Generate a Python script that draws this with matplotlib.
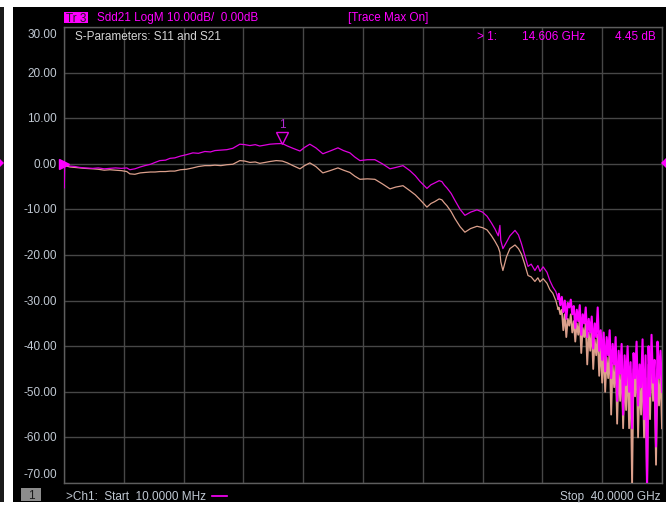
"""VNA screen grab: Sdd21 max-hold trace vs. current S21 trace, 10 MHz - 40 GHz."""
import matplotlib
matplotlib.use("Agg")
import matplotlib.pyplot as plt
import matplotlib.patches as mpatches
import numpy as np

W, H = 666, 506
F_START, F_STOP = 0.01, 40.0   # GHz
Y_MIN, Y_MAX = -70.0, 30.0     # dB

# sweep points (GHz)
FREQ_GHZ = [
    0.01, 0.03, 0.06, 0.10, 0.40, 0.75, 1.07, 1.40, 1.94, 2.30,
    2.70, 3.08, 3.45, 3.85, 4.21, 4.41, 4.75, 5.10, 5.42, 5.80,
    6.10, 6.42, 6.80, 7.10, 7.42, 7.80, 8.20, 8.63, 9.00, 9.43,
    9.80, 10.10, 10.50, 10.90, 11.30, 11.77, 12.10, 12.44, 12.80, 13.10,
    13.45, 13.78, 14.20, 14.61, 14.95, 15.32, 15.79, 16.10, 16.45, 16.85,
    17.32, 17.80, 18.33, 18.70, 19.13, 19.45, 19.80, 20.30, 20.80, 21.30,
    21.81, 22.20, 22.68, 23.14, 23.50, 23.80, 24.28, 24.55, 24.80, 25.10,
    25.28, 25.45, 25.62, 25.90, 26.15, 26.50, 26.82, 27.20, 27.63, 28.00,
    28.30, 28.60, 28.83, 29.05, 29.16, 29.22, 29.36, 29.60, 29.83, 30.17,
    30.40, 30.60, 30.80, 31.04, 31.25, 31.50, 31.70, 31.84, 32.05, 32.31,
    32.50, 32.70, 32.90, 33.04,
    33.1, 33.2, 33.3, 33.4, 33.5, 33.6, 33.7, 33.8, 33.9, 34.0,
    34.1, 34.2, 34.3, 34.4, 34.5, 34.6, 34.7, 34.8, 34.9, 35.0,
    35.1, 35.2, 35.3, 35.4, 35.5, 35.6, 35.7, 35.8, 35.9, 36.0,
    36.1, 36.2, 36.3, 36.4, 36.5, 36.6, 36.7, 36.8, 36.9, 37.0,
    37.1, 37.2, 37.3, 37.4, 37.5, 37.6, 37.7, 37.8, 37.9, 38.0,
    38.1, 38.2, 38.3, 38.4, 38.5, 38.6, 38.7, 38.8, 38.9, 39.0,
    39.1, 39.2, 39.3, 39.4, 39.5, 39.6, 39.7, 39.8, 39.9, 40.0,
]
N_SMOOTH = 104  # points before the noisy tail starts

# Tr 3: Sdd21 with trace max hold (magenta)
SDD21_MAX_DB = [
    0.5, -5.3, 0.3, -0.2, -0.5, -0.6, -0.8, -0.9, -1.0, -0.9,
    -1.1, -1.0, -0.9, -1.0, -0.9, -1.3, -1.1, -0.7, -0.4, -0.1,
    0.3, 0.7, 0.8, 1.2, 1.3, 1.7, 2.0, 2.4, 2.3, 2.7,
    2.6, 2.9, 3.0, 3.1, 3.4, 4.3, 4.2, 4.0, 4.2, 3.9,
    4.1, 4.3, 4.4, 4.45, 3.9, 3.4, 2.8, 3.6, 4.3, 3.5,
    2.2, 2.8, 3.5, 2.9, 2.4, 1.5, 0.7, 0.9, 0.9, 0.0,
    -1.1, -0.8, -0.4, -1.5, -2.6, -3.8, -5.4, -4.6, -4.2, -3.7,
    -3.9, -4.7, -5.3, -6.5, -8.0, -10.0, -11.3, -10.6, -10.1, -10.6,
    -11.5, -13.0, -14.3, -15.8, -13.5, -16.8, -18.6, -17.2, -15.8, -14.6,
    -15.6, -17.5, -19.8, -22.5, -22.0, -23.4, -22.3, -23.6, -22.6, -23.8,
    -25.6, -27.0, -28.0, -29.6,
    -28.5, -31.0, -29.2, -32.5, -30.0, -34.0, -30.5, -31.5, -29.8, -33.0,
    -31.2, -36.0, -32.0, -34.5, -31.0, -37.5, -33.0, -35.0, -31.5, -38.0,
    -34.0, -37.0, -33.5, -40.5, -35.0, -38.0, -31.5, -41.0, -36.5, -43.0,
    -37.0, -45.5, -38.0, -42.0, -36.5, -47.0, -39.5, -44.0, -38.0, -52.0,
    -41.0, -46.0, -39.5, -55.0, -42.0, -48.5, -40.0, -50.0, -43.5, -58.0,
    -41.5, -47.0, -39.0, -53.0, -44.0, -49.0, -38.5, -56.0, -42.0, -71.0,
    -40.0, -51.0, -37.5, -48.0, -43.0, -62.0, -39.0, -47.0, -41.0, -50.0,
]

# live S21 trace (salmon)
S21_DB = [
    0.0, -0.5, -0.2, -0.4, -0.7, -0.8, -0.9, -1.0, -1.1, -1.2,
    -1.4, -1.3, -1.4, -1.5, -1.7, -2.2, -2.3, -2.0, -1.9, -1.8,
    -1.8, -1.7, -1.7, -1.6, -1.6, -1.3, -1.2, -0.9, -0.6, -0.4,
    -0.4, -0.3, -0.4, -0.2, -0.1, 0.7, 0.6, 0.3, 0.4, 0.1,
    0.3, 0.5, 0.7, 0.6, 0.2, -0.4, -1.1, -0.4, 0.2, -0.6,
    -2.0, -1.5, -0.9, -1.4, -1.9, -2.7, -3.4, -3.3, -3.4, -4.4,
    -5.5, -5.1, -4.8, -5.9, -6.8, -7.8, -9.5, -8.7, -8.3, -7.7,
    -7.9, -8.6, -9.2, -10.5, -12.0, -13.8, -15.0, -14.2, -13.7, -14.0,
    -14.5, -15.8, -17.0, -18.3, -19.4, -21.5, -23.4, -20.4, -18.6, -17.8,
    -18.6, -19.8, -21.8, -24.5, -24.8, -25.8, -25.0, -25.9, -25.2, -26.2,
    -27.6, -28.4, -30.0, -31.8,
    -31.5, -33.0, -32.0, -36.5, -33.0, -38.0, -34.0, -35.5, -33.0, -37.0,
    -34.5, -39.0, -35.0, -37.5, -34.0, -41.5, -36.0, -38.0, -35.0, -44.0,
    -37.0, -41.0, -36.0, -45.0, -38.5, -42.0, -37.5, -46.5, -40.0, -48.0,
    -41.0, -50.0, -42.5, -47.0, -40.5, -55.0, -44.0, -49.0, -43.0, -57.0,
    -45.0, -52.0, -44.0, -58.0, -47.0, -54.0, -43.5, -58.0, -46.0, -71.0,
    -45.0, -51.0, -43.0, -60.0, -48.0, -55.0, -44.5, -60.0, -47.0, -71.0,
    -44.0, -56.0, -42.0, -52.0, -47.0, -66.0, -45.0, -53.0, -46.0, -58.0,
]

Y_TICKS = [30, 20, 10, 0, -10, -20, -30, -40, -50, -60, -70]
MARKER_F, MARKER_DB = 14.606, 4.45

MAGENTA = "#ff00ff"
TRACE_MAG = "#e000e0"
SALMON = "#dca08c"
LABEL = "#c0c8d2"
GRID = "#474747"

plt.rcParams["font.family"] = ["Liberation Sans", "DejaVu Sans"]


def fx(x):
    return x / W


def fy(y):
    return 1 - y / H


def fig_tri(pts, color):
    fig.add_artist(mpatches.Polygon([(fx(a), fy(b)) for a, b in pts], closed=True,
                                    transform=fig.transFigure, facecolor=color,
                                    edgecolor="none", zorder=6))


fig = plt.figure(figsize=(W / 100, H / 100), dpi=100, facecolor="white")

# black instrument panel
fig.add_artist(mpatches.Rectangle((fx(13), fy(503)), 1 - fx(13), fy(8) - fy(503),
                                  transform=fig.transFigure, facecolor="black",
                                  edgecolor="none", zorder=0))
fig.add_artist(mpatches.Rectangle((0, fy(503)), fx(4), fy(8) - fy(503),
                                  transform=fig.transFigure, facecolor="#1a1a1a",
                                  edgecolor="none", zorder=0))

ax = fig.add_axes([fx(64), fy(484), fx(662) - fx(64), fy(28) - fy(484)])
ax.set_facecolor("black")
ax.set_xlim(F_START, F_STOP)
ax.set_ylim(Y_MIN, Y_MAX)
ax.set_xticks(np.linspace(F_START, F_STOP, 11))
ax.set_yticks(Y_TICKS)
ax.grid(True, color=GRID, lw=1.0)
ax.tick_params(length=0, labelbottom=False, labelleft=False)
for s in ax.spines.values():
    s.set_color("#5e5e5e")
    s.set_linewidth(1.0)

# smooth part thin, noisy tail drawn heavier so it fills in like the screen
ax.plot(FREQ_GHZ[:N_SMOOTH], S21_DB[:N_SMOOTH], color=SALMON, lw=0.9, zorder=3)
ax.plot(FREQ_GHZ[N_SMOOTH - 1:], S21_DB[N_SMOOTH - 1:], color=SALMON, lw=1.3, zorder=3)
ax.plot(FREQ_GHZ[:N_SMOOTH], SDD21_MAX_DB[:N_SMOOTH], color=TRACE_MAG, lw=0.9, zorder=4)
ax.plot(FREQ_GHZ[N_SMOOTH - 1:], SDD21_MAX_DB[N_SMOOTH - 1:], color=MAGENTA, lw=1.5,
        zorder=4)

# marker 1
ax.plot(MARKER_F, MARKER_DB + 1.25, marker="v", markersize=9, markerfacecolor="none",
        markeredgecolor=TRACE_MAG, markeredgewidth=1.0, zorder=5)
ax.text(MARKER_F, MARKER_DB + 4.3, "1", color="#b02ad0", fontsize=8.5,
        ha="center", va="center", zorder=5)

# reference level arrows
ax.plot(F_START, 0, marker=">", markersize=7, color=MAGENTA, clip_on=False, zorder=6)
fig_tri([(666, 159), (666, 169), (661, 164)], MAGENTA)
fig_tri([(0, 160), (0, 168), (4, 164)], MAGENTA)

# y labels (top/bottom ones pulled inside the frame)
for v in Y_TICKS:
    yp = 164.8 - v * 4.56
    yp = min(max(yp, 35), 475)
    fig.text(fx(57), fy(yp), f"{v:.2f}", color=LABEL, fontsize=8.5, ha="right", va="center")

# header line
fig.add_artist(mpatches.Rectangle((fx(64), fy(24)), fx(24), fy(13) - fy(24),
                                  transform=fig.transFigure, facecolor=MAGENTA,
                                  edgecolor="none"))
fig.text(fx(76), fy(18.5), "Tr 3", color="#202020", fontsize=8.5, ha="center", va="center")
fig.text(fx(97), fy(18.5), "Sdd21 LogM 10.00dB/  0.00dB", color=MAGENTA, fontsize=8.5,
         ha="left", va="center")
fig.text(fx(348), fy(18.5), "[Trace Max On]", color=MAGENTA, fontsize=8.5, ha="left", va="center")

# inside annotations
fig.text(fx(75), fy(37.5), "S-Parameters: S11 and S21", color="#d4d4d4", fontsize=8.5,
         ha="left", va="center")
fig.text(fx(477), fy(37.5), "> 1:", color=MAGENTA, fontsize=8.5, ha="left", va="center")
fig.text(fx(585), fy(37.5), f"{MARKER_F:.3f} GHz", color=MAGENTA, fontsize=8.5,
         ha="right", va="center")
fig.text(fx(656), fy(37.5), f"{MARKER_DB:.2f} dB", color=MAGENTA, fontsize=8.5,
         ha="right", va="center")

# footer
fig.add_artist(mpatches.Rectangle((fx(21), fy(502)), fx(20), fy(489) - fy(502),
                                  transform=fig.transFigure, facecolor="#8c8c8c",
                                  edgecolor="none"))
fig.text(fx(31), fy(496), "1", color="#1a1a1a", fontsize=8.5, ha="center", va="center")
fig.text(fx(66), fy(497), ">Ch1:  Start  10.0000 MHz", color=LABEL, fontsize=8.5,
         ha="left", va="center")
fig.add_artist(plt.Line2D([fx(212), fx(227)], [fy(497), fy(497)], color=MAGENTA, lw=1.2))
fig.text(fx(660), fy(497), "Stop  40.0000 GHz", color=LABEL, fontsize=8.5,
         ha="right", va="center")

fig.savefig("out.png", dpi=100, facecolor="white")
